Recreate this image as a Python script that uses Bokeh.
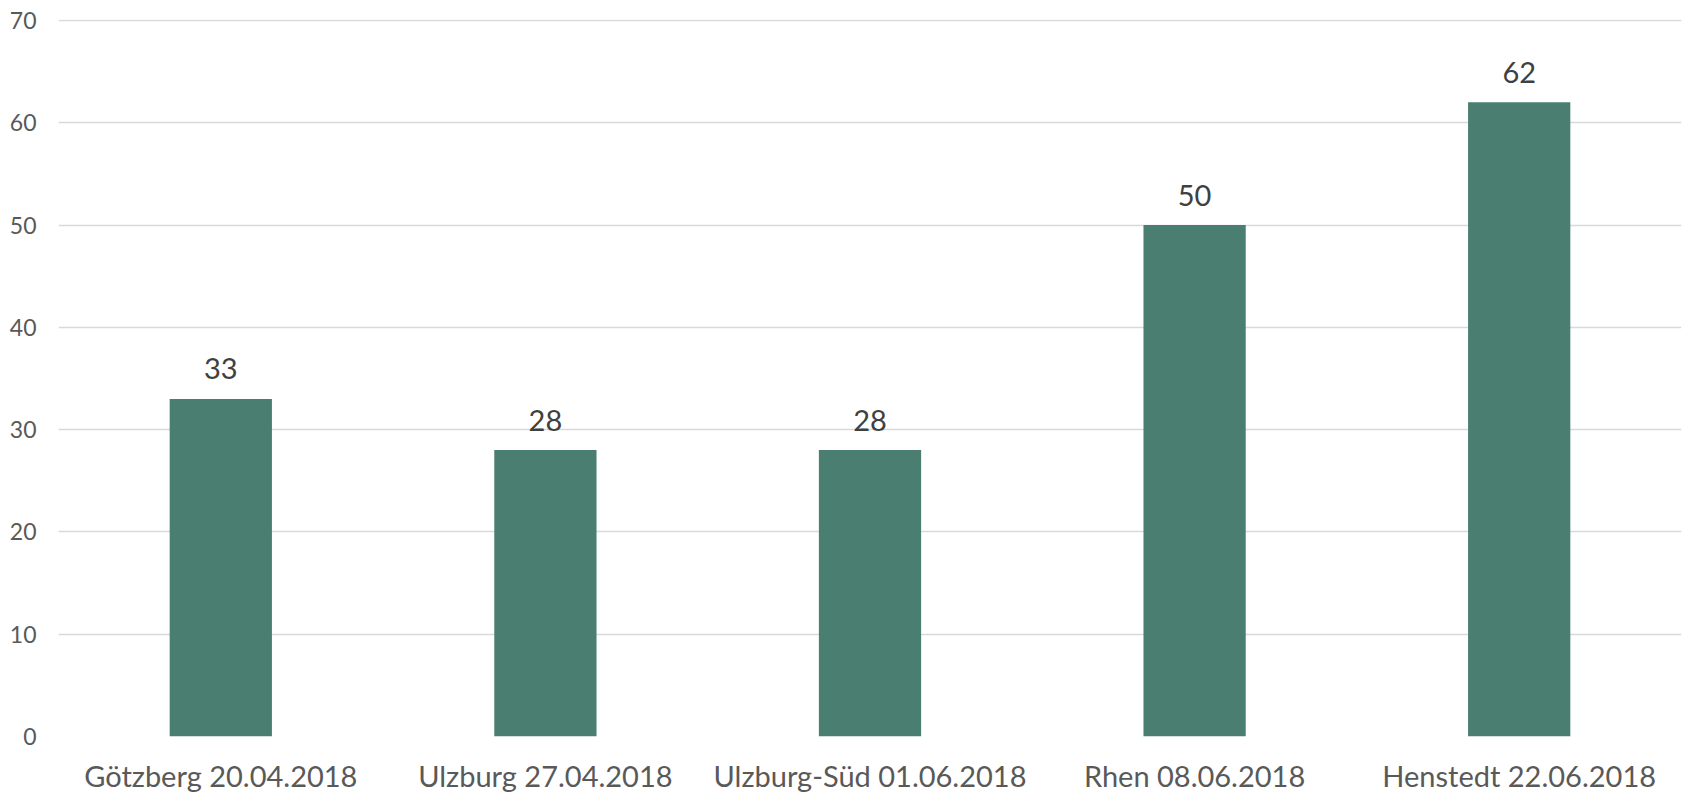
from bokeh.plotting import figure
from bokeh.models import FactorRange, Range1d, ColumnDataSource, FixedTicker
from bokeh.core.properties import value
from bokeh.embed import file_html
from bokeh.resources import INLINE

categories = ["Götzberg 20.04.2018", "Ulzburg 27.04.2018", "Ulzburg-Süd 01.06.2018",
              "Rhen 08.06.2018", "Henstedt 22.06.2018"]
values = [33, 28, 28, 50, 62]
y_ticks = [0, 10, 20, 30, 40, 50, 60, 70]

FONT = "Lato"
source = ColumnDataSource(dict(cat=categories, val=values, lbl=[str(v) for v in values]))

p = figure(width=1686, height=795, x_range=FactorRange(*categories, range_padding=0),
           y_range=Range1d(0, 70.1), output_backend="svg", toolbar_location=None,
           min_border_left=58, min_border_right=5, min_border_top=19, min_border_bottom=58)
p.outline_line_color = None
p.background_fill_color = "white"
p.border_fill_color = "white"

p.vbar(x="cat", top="val", width=0.315, source=source, fill_color="#4a7e71", line_color=None)
p.text(x="cat", y="val", text="lbl", source=source, text_align="center", text_baseline="alphabetic",
       y_offset=-30, text_font=value(FONT), text_font_size="29px", text_color="#404040")

p.xgrid.grid_line_color = None
p.ygrid.grid_line_color = "#d9d9d9"
p.ygrid.grid_line_width = 1.5
p.yaxis.ticker = FixedTicker(ticks=y_ticks)
for ax in (p.xaxis, p.yaxis):
    ax.axis_line_color = None
    ax.major_tick_line_color = None
    ax.minor_tick_line_color = None
    ax.major_tick_out = 0
    ax.major_tick_in = 0
    ax.major_label_text_font = FONT
    ax.major_label_text_color = "#595959"
p.yaxis.major_label_text_font_size = "23px"
p.yaxis.major_label_standoff = 22
p.xaxis.major_label_text_font_size = "29px"
p.xaxis.major_label_standoff = 21

open("out.html", "w").write(file_html(p, INLINE))
